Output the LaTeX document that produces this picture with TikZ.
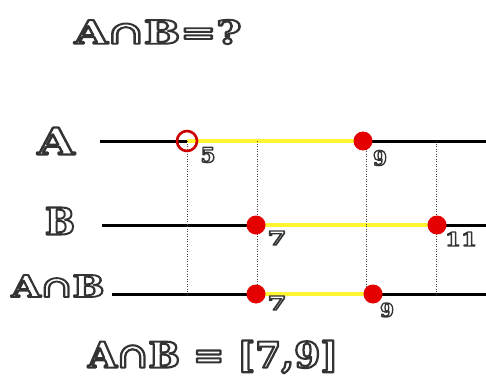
\documentclass[tikz,border=0pt]{standalone}
\usepackage{fontspec}
\setmainfont{DejaVu Serif}
\usepackage{graphicx}
\newcommand{\olt}[4][0.65]{\resizebox{#2}{#3}{\textcolor{white}{\special{pdf:literal direct 0.2 G 2 Tr #1 w 1 j}\bfseries #4\special{pdf:literal direct 0 Tr}}}}
\begin{document}
\begin{tikzpicture}[x=1pt,y=-1pt,
  axis/.style={line width=3pt,black},
  seg/.style={line width=4pt,yellow!80!white,yshift=2.5pt},
  guide/.style={line width=0.7pt,black!75,dash pattern=on 1.2pt off 1.3pt},
  reddot/.style={circle,fill=red!90!black,minimum size=19pt,inner sep=0pt},
  opendot/.style={circle,draw=red!80!black,line width=2.6pt,minimum size=20pt,inner sep=0pt},
  lbl/.style={inner sep=0pt,anchor=center}]
\useasboundingbox (0,0) rectangle (486,382);
% titles and labels
\node[lbl] (title) at (158,32) {\olt[0.6]{167pt}{24pt}{A∩B=?}};
\node[lbl] (la) at (56,141) {\olt[0.55]{37pt}{27pt}{A}};
\node[lbl] (lb) at (60,221) {\olt[0.55]{30pt}{27pt}{B}};
\node[lbl] (lc) at (58,286) {\olt[0.6]{93pt}{22pt}{A∩B}};
\node[lbl] (res) at (213,357) {\olt[0.6]{250pt}{27pt}{A∩B = [7,9]}};
% axes
\coordinate (aL) at (100,141); \coordinate (aR) at (486,141);
\coordinate (bL) at (102,225); \coordinate (bR) at (486,225);
\coordinate (cL) at (112,294); \coordinate (cR) at (486,294);
\draw[axis] (aL) -- (aR);
\draw[axis] (bL) -- (bR);
\draw[axis] (cL) -- (cR);
% points
\coordinate (a5) at (187,141); \coordinate (a9) at (363,141);
\coordinate (b7) at (256,225); \coordinate (b11) at (437,225);
\coordinate (c7) at (256,294); \coordinate (c9) at (373,294);
% yellow segments
\draw[seg] (a5) -- (a9);
\draw[seg] (b7) -- (b11);
\draw[seg] (c7) -- (c9);
% guides
\coordinate (g1t) at (187,141); \coordinate (g1b) at (187,294);
\coordinate (g2t) at (257,141); \coordinate (g2b) at (257,294);
\coordinate (g3t) at (366,141); \coordinate (g3b) at (366,294);
\coordinate (g4t) at (436,141); \coordinate (g4b) at (436,294);
\draw[guide] (g1t) -- (g1b);
\draw[guide] (g2t) -- (g2b);
\draw[guide] (g3t) -- (g3b);
\draw[guide] (g4t) -- (g4b);
% dots
\node[opendot] (p5) at (a5) {};
\node[reddot] (p9) at (a9) {};
\node[reddot] (q7) at (b7) {};
\node[reddot] (q11) at (b11) {};
\node[reddot] (r7) at (c7) {};
\node[reddot] (r9) at (c9) {};
% numbers
\node[lbl] (n5) at (208,155) {\olt{15pt}{15pt}{5}};
\node[lbl] (n9a) at (380,158) {\olt{14pt}{15pt}{9}};
\node[lbl] (n7b) at (277,238) {\olt{19pt}{14pt}{7}};
\node[lbl] (n11) at (461,239) {\olt{32pt}{14pt}{11}};
\node[lbl] (n7c) at (277,303) {\olt{19pt}{14pt}{7}};
\node[lbl] (n9c) at (387,310) {\olt{14pt}{14pt}{9}};
\end{tikzpicture}
\end{document}
